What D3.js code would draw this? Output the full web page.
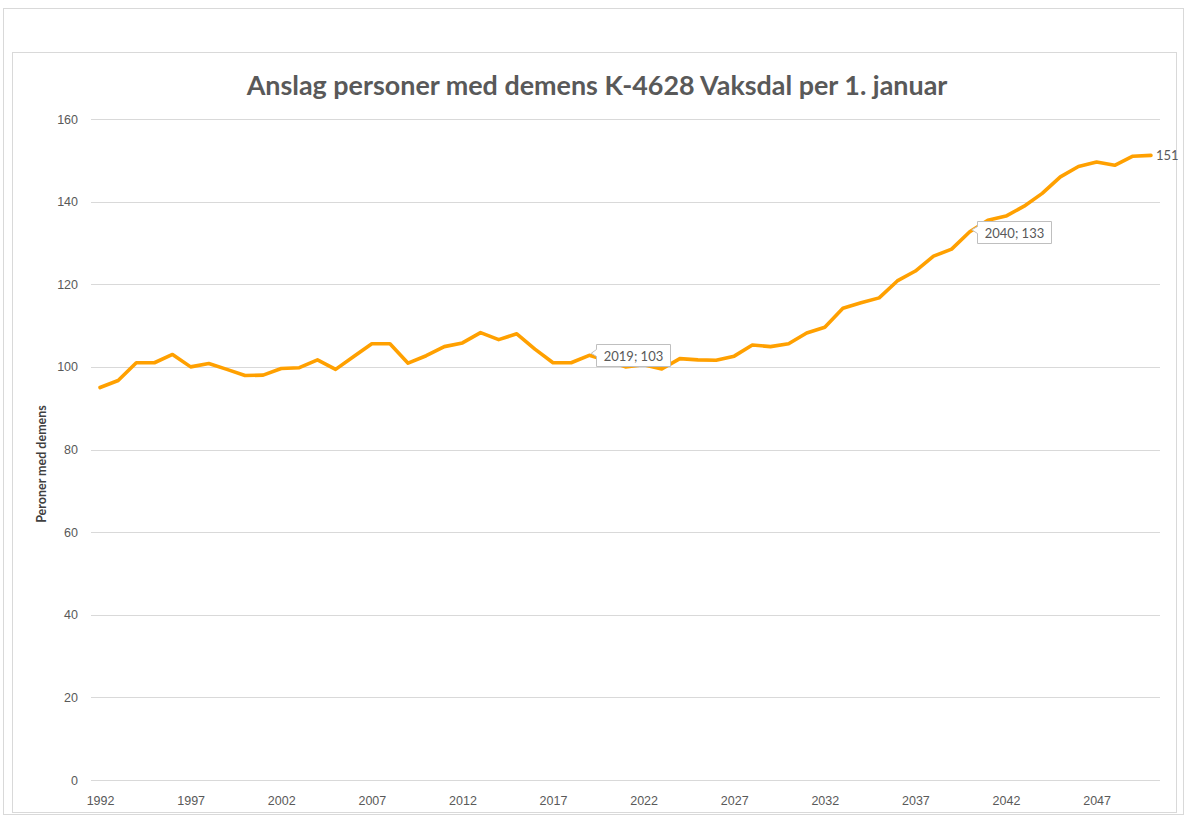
<!DOCTYPE html>
<html>
<head>
<meta charset="utf-8">
<script src="https://cdn.jsdelivr.net/npm/d3@7"></script>
<style>
  html, body { margin: 0; padding: 0; background: #fff; }
  svg { display: block; font-family: Lato, "Open Sans", sans-serif; }
  .tick text { fill: #595959; font-size: 12.5px; }
</style>
</head>
<body>
<div id="chart"></div>
<script>
// ─── Data ────────────────────────────────────────────────────────────────
const YEARS = d3.range(1992, 2051);
const PERSONS = [
  95.0, 96.7, 101.0, 101.0, 103.0, 100.0, 100.8, 99.4, 97.9, 98.0,
  99.6, 99.8, 101.7, 99.4, 102.5, 105.6, 105.6, 100.9, 102.7, 104.9,
  105.8, 108.3, 106.6, 108.0, 104.3, 101.0, 101.0, 102.8, 101.5, 100.0,
  100.5, 99.5, 102.0, 101.7, 101.6, 102.6, 105.3, 104.9, 105.6, 108.2,
  109.6, 114.2, 115.5, 116.7, 120.8, 123.2, 126.8, 128.5, 132.7, 135.5,
  136.5, 138.9, 142.0, 146.0, 148.5, 149.6, 148.8, 151.0, 151.2
];
const X_TICKS = [1992, 1997, 2002, 2007, 2012, 2017, 2022, 2027, 2032, 2037, 2042, 2047];
const Y_TICKS = [0, 20, 40, 60, 80, 100, 120, 140, 160];
const CALLOUT_YEARS = [2019, 2040];
const END_LABEL_YEAR = 2050;

const TITLE = 'Anslag personer med demens K-4628 Vaksdal per 1. januar';
const Y_TITLE = 'Peroner med demens';

// ─── Layout ──────────────────────────────────────────────────────────────
const W = 1186, H = 819;
const plot = { left: 91, right: 1160, top: 119, bottom: 780 };
const GREY = '#595959';
const LINE = '#ffa000';

const svg = d3.select('#chart').append('svg')
  .attr('width', W).attr('height', H);

// frames
svg.append('rect')
  .attr('x', 3.5).attr('y', 8.5).attr('width', 1180).attr('height', 806)
  .attr('fill', '#fff').attr('stroke', '#d9d9d9');
svg.append('rect')
  .attr('x', 12.5).attr('y', 52.5).attr('width', 1164).attr('height', 760)
  .attr('fill', '#fff').attr('stroke', '#d9d9d9');

const data = YEARS.map((y, i) => ({ year: y, value: PERSONS[i] }));

const x = d3.scalePoint()
  .domain(YEARS)
  .range([plot.left, plot.right])
  .padding(0.5);

const y = d3.scaleLinear()
  .domain([0, 160])
  .range([plot.bottom, plot.top]);

// gridlines
svg.append('g')
  .selectAll('line')
  .data(Y_TICKS)
  .join('line')
  .attr('x1', plot.left).attr('x2', plot.right)
  .attr('y1', d => Math.round(y(d)) + 0.5)
  .attr('y2', d => Math.round(y(d)) + 0.5)
  .attr('stroke', '#d9d9d9')
  .attr('stroke-width', 1);

// y axis
const yAxis = svg.append('g')
  .attr('transform', `translate(${plot.left},0)`)
  .call(d3.axisLeft(y).tickValues(Y_TICKS).tickSize(0).tickPadding(13));
yAxis.select('.domain').remove();

// x axis
const xAxis = svg.append('g')
  .attr('transform', `translate(0,${plot.bottom})`)
  .call(d3.axisBottom(x).tickValues(X_TICKS).tickSize(0));
xAxis.select('.domain').remove();
xAxis.selectAll('text').attr('y', 25).attr('dy', 0);

// line
svg.append('path')
  .datum(data)
  .attr('fill', 'none')
  .attr('stroke', LINE)
  .attr('stroke-width', 3.6)
  .attr('stroke-linejoin', 'round')
  .attr('stroke-linecap', 'round')
  .attr('d', d3.line().x(d => x(d.year)).y(d => y(d.value)));

// callout labels
CALLOUT_YEARS.forEach(yr => {
  const d = data.find(p => p.year === yr);
  const px = x(d.year), py = y(d.value);
  const bx = Math.round(px + 7) + 0.5, by = Math.round(py - 11) + 0.5;
  const g = svg.append('g');
  const t = g.append('text')
    .attr('x', 0).attr('y', 0)
    .attr('fill', GREY)
    .style('font-size', '13px')
    .text(`${d.year}; ${Math.round(d.value)}`);
  const tw = t.node().getComputedTextLength();
  const bw = Math.round(tw + 14), bh = 22;
  g.insert('path', 'text')
    .attr('d', `M${bx},${by} H${bx + bw} V${by + bh} H${bx} V${by + 12} L${px + 2},${py - 2} L${bx},${by + 5} Z`)
    .attr('fill', '#fff')
    .attr('stroke', '#bfbfbf');
  t.attr('x', bx + bw / 2).attr('y', by + 16).attr('text-anchor', 'middle');
});

// end label
const last = data.find(p => p.year === END_LABEL_YEAR);
svg.append('text')
  .attr('x', x(last.year) + 5)
  .attr('y', y(last.value) + 5)
  .attr('fill', GREY)
  .style('font-size', '13px')
  .text(Math.round(last.value));

// y title
svg.append('text')
  .attr('transform', `translate(46,464) rotate(-90)`)
  .attr('text-anchor', 'middle')
  .attr('fill', '#404040')
  .style('font-size', '12.5px')
  .style('font-weight', 'bold')
  .text(Y_TITLE);

// chart title, sized to the reference width
const title = svg.append('text')
  .attr('x', 597)
  .attr('y', 95)
  .attr('text-anchor', 'middle')
  .attr('fill', GREY)
  .style('font-weight', 'bold')
  .style('font-size', '24px')
  .text(TITLE);
const tl = title.node().getComputedTextLength();
title.style('font-size', (24 * 700 / tl).toFixed(1) + 'px');
</script>
</body>
</html>
